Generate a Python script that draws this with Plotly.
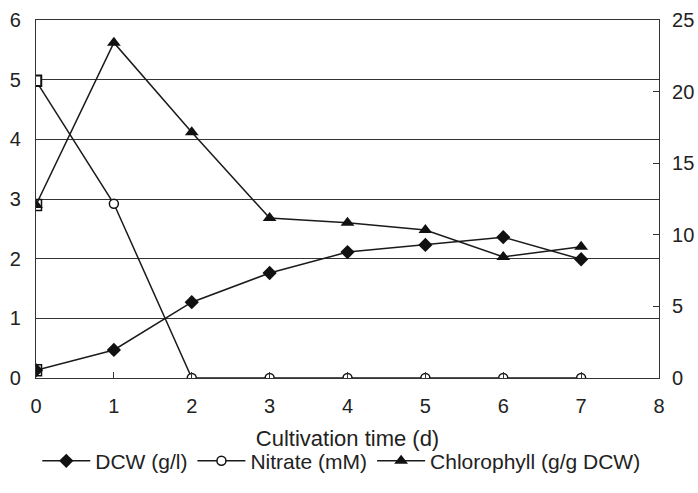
import plotly.graph_objects as go

time_d = [0, 1, 2, 3, 4, 5, 6, 7]
dcw = [0.13, 0.47, 1.27, 1.76, 2.11, 2.23, 2.36, 1.99]
nitrate = [4.98, 2.92, 0, 0, 0, 0, 0, 0]
chlorophyll = [2.9, 5.62, 4.12, 2.68, 2.6, 2.48, 2.03, 2.2]
left_ticks = [0, 1, 2, 3, 4, 5, 6]
right_ticks = [0, 5, 10, 15, 20, 25]
x_ticks = [0, 1, 2, 3, 4, 5, 6, 7, 8]

FONT = "Liberation Sans, Arial, sans-serif"
INK = "#222222"
LINE = dict(color="#1a1a1a", width=1.5)

fig = go.Figure()

fig.add_trace(go.Scatter(
    x=time_d, y=dcw, name="DCW (g/l)", mode="lines+markers",
    line=LINE,
    marker=dict(symbol="diamond", size=11, color="#111111", line=dict(width=0)),
))
fig.add_trace(go.Scatter(
    x=time_d, y=nitrate, name="Nitrate (mM)", mode="lines+markers",
    line=LINE,
    marker=dict(symbol="circle", size=9, color="white", line=dict(color="#111111", width=1.5)),
))
fig.add_trace(go.Scatter(
    x=time_d, y=chlorophyll, name="Chlorophyll (g/g DCW)", mode="lines+markers",
    line=LINE,
    marker=dict(symbol="triangle-up", size=12, color="#111111", line=dict(width=0)),
))
# square-looking day-0 markers
fig.add_trace(go.Scatter(
    x=[time_d[0]] * 3, y=[dcw[0], nitrate[0], chlorophyll[0]], mode="markers",
    showlegend=False, hoverinfo="skip",
    marker=dict(symbol="square-open", size=11, color="#111111", line=dict(width=1.5)),
))
fig.add_trace(go.Scatter(
    x=[time_d[0]], y=[nitrate[0]], mode="markers", showlegend=False, hoverinfo="skip",
    marker=dict(symbol="square", size=10, color="white", line=dict(color="#111111", width=1.5)),
))
# invisible trace to hold right axis
fig.add_trace(go.Scatter(x=[0], y=[0], yaxis="y2", mode="markers",
                         marker=dict(opacity=0), showlegend=False, hoverinfo="skip"))

fig.update_layout(
    width=698, height=493,
    margin=dict(l=36, r=39, t=20, b=115, autoexpand=False),
    paper_bgcolor="white", plot_bgcolor="white",
    font=dict(family=FONT, color=INK, size=20),
    showlegend=True,
    legend=dict(orientation="h", x=0.49, xanchor="center", y=-0.175, yanchor="top",
                font=dict(size=21, color=INK), itemwidth=48, traceorder="normal",
                bgcolor="rgba(0,0,0,0)", tracegroupgap=0),
    xaxis=dict(range=[0, 8], tickvals=x_ticks, ticks="inside", ticklen=6,
               tickcolor="#333", showgrid=False, zeroline=False, automargin=False,
               showline=True, linecolor="#333", linewidth=1.2, mirror=True,
               tickfont=dict(size=20, color=INK), ticklabelstandoff=10,
               title=dict(text="Cultivation time (d)", font=dict(size=22, color=INK), standoff=14)),
    yaxis=dict(range=[0, 6], tickvals=left_ticks, ticks="", showgrid=True, automargin=False,
               gridcolor="#333", gridwidth=1.2, zeroline=False,
               showline=True, linecolor="#333", linewidth=1.2,
               tickfont=dict(size=20, color=INK), ticklabelstandoff=10),
    yaxis2=dict(range=[0, 25], tickvals=right_ticks, overlaying="y", side="right",
                ticks="inside", ticklen=6, tickcolor="#333", showgrid=False, zeroline=False,
                showline=True, linecolor="#333", linewidth=1.2, automargin=False,
                tickfont=dict(size=20, color=INK), ticklabelstandoff=8),
)

fig.write_html("out.html")
